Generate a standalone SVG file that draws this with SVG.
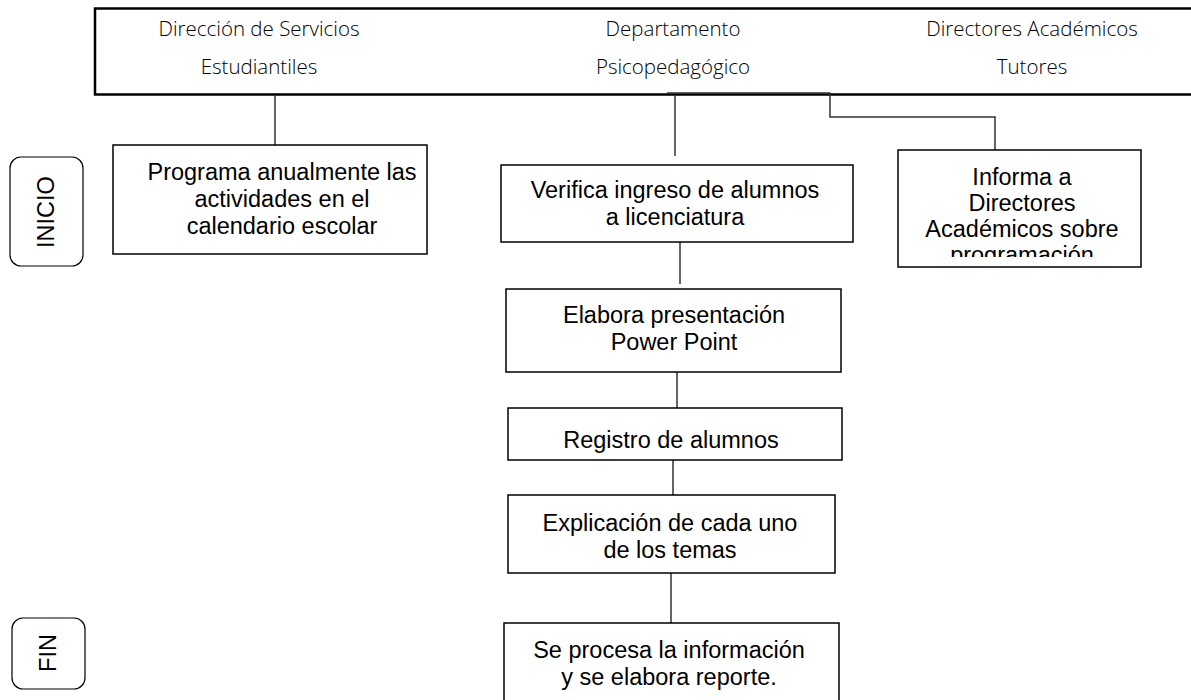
<svg xmlns="http://www.w3.org/2000/svg" width="1191" height="700" viewBox="0 0 1191 700">
<style>
.hdr{font-family:"Open Sans",Lato,"Liberation Sans",sans-serif;font-weight:300;font-size:20.5px;fill:#000;text-anchor:middle}
.box{fill:#fff;stroke:#000;stroke-width:1.5}
.t{font-family:"Liberation Sans",Arial,sans-serif;font-size:23.5px;fill:#000;text-anchor:middle}
.conn{fill:none;stroke:#333;stroke-width:1.5}
.term{fill:#fff;stroke:#000;stroke-width:1.2}
</style>
<defs>
<clipPath id="clipInf"><rect x="898" y="150" width="243" height="107"/></clipPath>
</defs>
<g id="header">
<path d="M1191 8.5 H95 V94.5 H1191" fill="none" stroke="#000" stroke-width="2.5"/>
<text class="hdr" x="259" y="36">Dirección de Servicios</text>
<text class="hdr" x="259" y="74">Estudiantiles</text>
<text class="hdr" x="673" y="36">Departamento</text>
<text class="hdr" x="673" y="74">Psicopedagógico</text>
<text class="hdr" x="1032" y="36">Directores Académicos</text>
<text class="hdr" x="1032" y="74">Tutores</text>
</g>
<g id="connectors">
<line class="conn" x1="275" y1="95" x2="275" y2="145"/>
<line class="conn" x1="675" y1="95" x2="675" y2="156"/>
<path class="conn" d="M667 93 H830 V117 H995 V150" stroke="#555"/>
<line class="conn" x1="680" y1="242" x2="680" y2="284"/>
<line class="conn" x1="677" y1="372" x2="677" y2="408"/>
<line class="conn" x1="673" y1="460" x2="673" y2="495"/>
<line class="conn" x1="671" y1="573" x2="671" y2="623"/>
</g>
<g id="inicio">
<rect class="term" x="10" y="157" width="73" height="109" rx="11"/>
<text class="t" transform="translate(54,212) rotate(-90)" font-size="23.5">INICIO</text>
</g>
<g id="fin">
<rect class="term" x="12" y="618" width="73" height="71" rx="11"/>
<text class="t" transform="translate(56,653) rotate(-90)" font-size="23.5">FIN</text>
</g>
<g id="programa">
<rect class="box" x="113" y="145" width="314" height="109"/>
<text class="t" x="282" y="180">Programa anualmente las</text>
<text class="t" x="282" y="207">actividades en el</text>
<text class="t" x="282" y="234">calendario escolar</text>
</g>
<g id="verifica">
<rect class="box" x="501" y="165" width="352" height="77"/>
<text class="t" x="675" y="198">Verifica ingreso de alumnos</text>
<text class="t" x="675" y="225">a licenciatura</text>
</g>
<g id="informa">
<rect class="box" x="898" y="150" width="243" height="117"/>
<g clip-path="url(#clipInf)">
<text class="t" x="1022" y="185">Informa a</text>
<text class="t" x="1022" y="211">Directores</text>
<text class="t" x="1022" y="237">Académicos sobre</text>
<text class="t" x="1022" y="263">programación</text>
</g>
</g>
<g id="elabora">
<rect class="box" x="506" y="289" width="335" height="83"/>
<text class="t" x="674" y="323">Elabora presentación</text>
<text class="t" x="674" y="350">Power Point</text>
</g>
<g id="registro">
<rect class="box" x="508" y="408" width="334" height="52"/>
<text class="t" x="671" y="448">Registro de alumnos</text>
</g>
<g id="explicacion">
<rect class="box" x="508" y="495" width="327" height="78"/>
<text class="t" x="670" y="531">Explicación de cada uno</text>
<text class="t" x="670" y="558">de los temas</text>
</g>
<g id="procesa">
<rect class="box" x="504" y="623" width="335" height="90"/>
<text class="t" x="669" y="658">Se procesa la información</text>
<text class="t" x="669" y="685">y se elabora reporte.</text>
</g>
</svg>
